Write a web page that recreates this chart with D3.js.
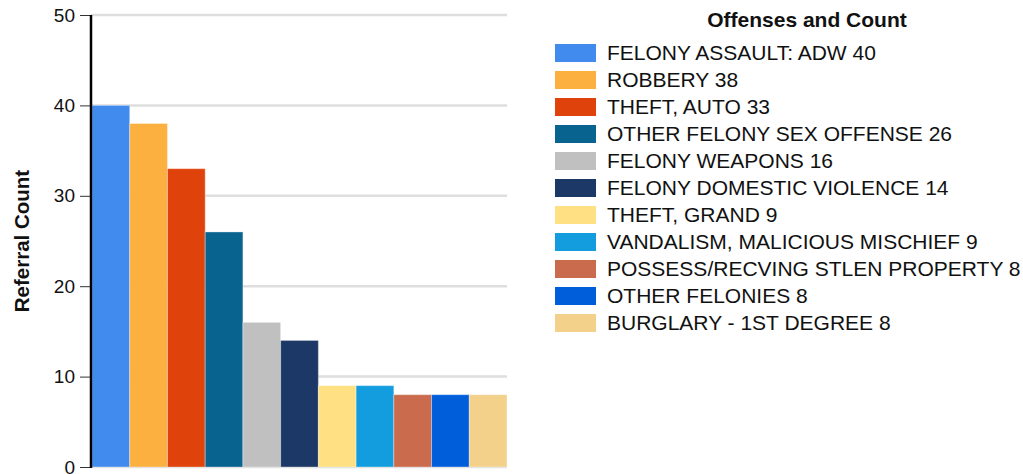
<!DOCTYPE html>
<html>
<head>
<meta charset="utf-8">
<script src="https://cdn.jsdelivr.net/npm/d3@7"></script>
<style>
  body { margin: 0; background: #fff; font-family: "Liberation Sans", Arial, sans-serif; }
</style>
</head>
<body>
<div id="chart"></div>
<script>
// ─── Data ───────────────────────────────────────────────────
const offenses = [
  "FELONY ASSAULT: ADW", "ROBBERY", "THEFT, AUTO", "OTHER FELONY SEX OFFENSE",
  "FELONY WEAPONS", "FELONY DOMESTIC VIOLENCE", "THEFT, GRAND",
  "VANDALISM, MALICIOUS MISCHIEF", "POSSESS/RECVING STLEN PROPERTY",
  "OTHER FELONIES", "BURGLARY - 1ST DEGREE"
];
const counts = [40, 38, 33, 26, 16, 14, 9, 9, 8, 8, 8];
const colors = [
  "#428bee", "#fbb040", "#e0420c", "#08648f", "#c0c0c0", "#1c3866",
  "#ffe082", "#139ddf", "#c96b4c", "#005edb", "#f3d18a"
];
const yTicks = [0, 10, 20, 30, 40, 50];

const W = 1023, H = 474;
const plot = { left: 91, right: 507, top: 15, bottom: 467 };

const svg = d3.select("#chart").append("svg")
  .attr("width", W).attr("height", H);

const x = d3.scaleBand().domain(offenses).range([plot.left + 1, plot.right]).padding(0);
const y = d3.scaleLinear().domain([0, 50]).range([plot.bottom, plot.top]);

// Gridlines
svg.append("g").selectAll("line").data(yTicks).join("line")
  .attr("x1", plot.left).attr("x2", plot.right)
  .attr("y1", d => y(d)).attr("y2", d => y(d))
  .attr("stroke", "#dedede").attr("stroke-width", 2.5);

// Bars
svg.append("g").selectAll("rect").data(offenses).join("rect")
  .attr("x", d => x(d))
  .attr("y", (d, i) => y(counts[i]))
  .attr("width", x.bandwidth())
  .attr("height", (d, i) => y(0) - y(counts[i]))
  .attr("fill", (d, i) => colors[i])
  .attr("stroke", "rgba(255,255,255,0.35)")
  .attr("stroke-width", 1);

// Y axis
const yAxis = d3.axisLeft(y).tickValues(yTicks).tickSize(11).tickPadding(5);
const gy = svg.append("g").attr("transform", `translate(${plot.left},0)`).call(yAxis);
gy.select(".domain").remove();
gy.selectAll(".tick line").attr("stroke", "#333");
gy.selectAll(".tick text")
  .attr("font-family", "Liberation Sans, Arial, sans-serif")
  .attr("font-size", 19).attr("fill", "#111");
svg.append("line")
  .attr("x1", plot.left).attr("x2", plot.left)
  .attr("y1", y(50)).attr("y2", y(0) + 1)
  .attr("stroke", "#000").attr("stroke-width", 2.5);

svg.append("text")
  .attr("transform", `translate(29,${(plot.top + plot.bottom) / 2}) rotate(-90)`)
  .attr("text-anchor", "middle")
  .attr("font-size", 20.5).attr("font-weight", "bold").attr("fill", "#111")
  .text("Referral Count");

// Legend
const legend = svg.append("g");
legend.append("text")
  .attr("x", 807).attr("y", 27)
  .attr("text-anchor", "middle")
  .attr("font-size", 21).attr("font-weight", "bold").attr("fill", "#111")
  .text("Offenses and Count");

const rowY = d3.scaleLinear().domain([0, 1]).range([44, 71]);
const rows = legend.selectAll("g.row").data(offenses).join("g")
  .attr("class", "row")
  .attr("transform", (d, i) => `translate(555,${rowY(i)})`);
rows.append("rect")
  .attr("width", 41).attr("height", 18)
  .attr("fill", (d, i) => colors[i]);
rows.append("text")
  .attr("x", 52).attr("y", 16)
  .attr("font-size", 21).attr("fill", "#111")
  .text((d, i) => `${d} ${counts[i]}`);
</script>
</body>
</html>
